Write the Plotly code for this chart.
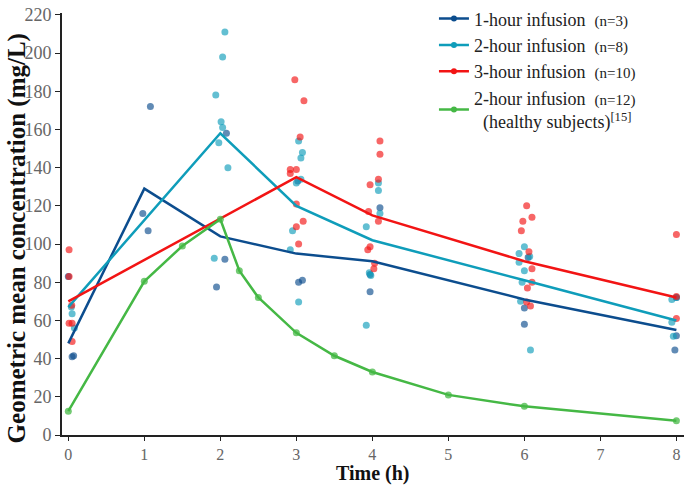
import plotly.graph_objects as go

# ---- mean curves ----
t_main = [0, 1, 2, 3, 4, 6, 8]
mean_1h = [48, 129, 104, 95, 91, 71, 55]
mean_2h = [67, 158, 120, 102, 81, 60]
t_2h = [0, 2, 3, 4, 6, 8]
mean_3h = [70, 135, 115, 91, 72]
t_3h = [0, 3, 4, 6, 8]
t_healthy = [0, 1, 1.5, 2, 2.25, 2.5, 3, 3.5, 4, 5, 6, 8]
mean_healthy = [12.5, 80.5, 99, 113, 86, 72, 53.5, 41.5, 33, 21, 15, 7.5]

# ---- individual observations ----
ind_1h_t = [0.0, 0.05, 0.07, 1.08, 0.98, 1.05, 2.08, 2.06, 1.95, 3.02, 3.03, 3.08, 4.1, 3.97, 3.97, 6.05, 6.0, 6.0, 8.0, 8.0, 7.98]
ind_1h_v = [83, 41, 41.5, 172, 116, 107, 158, 92, 77.5, 133, 80, 81, 119, 84, 75, 93, 66.5, 58, 72, 52, 44.5]

ind_2h_t = [0.04, 0.05, 0.08, 2.06, 2.03, 1.94, 2.01, 2.03, 1.98, 2.1, 1.92,
            3.03, 3.08, 3.06, 3.06, 3.0, 2.95, 2.92, 3.03,
            4.08, 4.08, 4.1, 3.92, 3.96, 3.98, 3.92,
            6.0, 5.93, 6.07, 5.93, 6.0, 5.97, 5.95, 6.08,
            8.0, 7.94, 7.94, 7.96]
ind_2h_v = [67, 63.5, 56, 211, 198, 178, 164, 161, 153, 140, 92.5,
            154, 148, 145, 134, 132, 107, 97, 69.7,
            132, 128, 116, 109, 85, 83.5, 57.5,
            98.6, 95, 93.5, 90.5, 86, 80, 70, 44.5,
            72, 71, 59, 51.7]

ind_3h_t = [0.01, 0.01, 0.045, 0.01, 0.05, 0.05,
            2.98, 3.1, 3.05, 2.92, 2.92, 3.0, 3.0, 3.09, 3.0, 3.03,
            4.1, 4.1, 4.08, 3.97, 3.95, 4.08, 3.94, 3.97, 4.03, 4.02,
            6.03, 6.1, 5.98, 5.96, 6.06, 6.1, 6.1, 6.04, 6.03, 6.08,
            8.0, 8.0, 8.0]
ind_3h_v = [97, 83, 68, 58.5, 58.5, 49,
            186, 175, 156, 139, 137, 139, 121, 112, 109, 100,
            154, 147, 134, 131, 117, 112, 97, 98.6, 90, 87,
            120, 114, 112, 107, 96, 87, 80, 77, 69.7, 67.5,
            105, 72.5, 61]

c_1h = "#0c4d8e"
c_2h = "#0f9dba"
c_3h = "#f21414"
c_h = "#45b845"

serif = "Liberation Serif, Times New Roman, serif"

fig = go.Figure()

def scatter(tt, vv, col):
    fig.add_trace(go.Scatter(x=tt, y=vv, mode="markers", showlegend=False,
                             marker=dict(color=col, size=7, opacity=0.65, line=dict(width=0)),
                             hoverinfo="skip"))

scatter(ind_1h_t, ind_1h_v, c_1h)
scatter(ind_2h_t, ind_2h_v, c_2h)
scatter(ind_3h_t, ind_3h_v, c_3h)

fig.add_trace(go.Scatter(x=t_main, y=mean_1h, mode="lines", line=dict(color=c_1h, width=2.5), showlegend=False))
fig.add_trace(go.Scatter(x=t_2h, y=mean_2h, mode="lines", line=dict(color=c_2h, width=2.5), showlegend=False))
fig.add_trace(go.Scatter(x=t_3h, y=mean_3h, mode="lines", line=dict(color=c_3h, width=2.5), showlegend=False))
fig.add_trace(go.Scatter(x=t_healthy, y=mean_healthy, mode="lines+markers",
                         line=dict(color=c_h, width=2.5),
                         marker=dict(color=c_h, size=7, opacity=0.75), showlegend=False))

small = '<span style="font-size:15px">'
legend_names = [
    "1-hour infusion  " + small + "(n=3)</span>",
    "2-hour infusion  " + small + "(n=8)</span>",
    "3-hour infusion  " + small + "(n=10)</span>",
    "2-hour infusion  " + small + "(n=12)</span><br>  (healthy subjects)<sup>[15]</sup>",
]
for name, col in zip(legend_names, [c_1h, c_2h, c_3h, c_h]):
    fig.add_trace(go.Scatter(x=[None], y=[None], mode="lines+markers", name=name,
                             line=dict(color=col, width=2.5), marker=dict(color=col, size=6)))

fig.update_layout(
    width=684, height=489,
    margin=dict(l=62, r=0, t=4, b=54),
    plot_bgcolor="white", paper_bgcolor="white",
    font=dict(family=serif, color="#222"),
    legend=dict(x=0.598, y=1.03, xanchor="left", yanchor="top",
                bgcolor="rgba(0,0,0,0)", font=dict(family=serif, size=18, color="#222"),
                tracegroupgap=0, itemwidth=30),
    xaxis=dict(range=[-0.083, 8.1], tickvals=[0, 1, 2, 3, 4, 5, 6, 7, 8],
               showline=True, linecolor="#222", linewidth=2, showgrid=False, zeroline=False,
               ticks="outside", ticklen=4, tickcolor="#222",
               tickfont=dict(family=serif, size=16, color="#666"),
               automargin=False),
    yaxis=dict(range=[0, 221], tickvals=list(range(0, 221, 20)),
               showline=True, linecolor="#222", linewidth=2, showgrid=False, zeroline=False,
               ticks="outside", ticklen=5, tickcolor="#222", ticklabeloverflow="allow",
               tickfont=dict(family=serif, size=18, color="#666"),
               automargin=False),
    annotations=[
        dict(text="<b>Geometric mean concentration (mg/L)</b>", textangle=-90,
             xref="paper", yref="paper", x=-0.0723, y=0.466, xanchor="center", yanchor="middle",
             showarrow=False, font=dict(family=serif, size=25, color="#111")),
        dict(text="<b>Time (h)</b>",
             xref="paper", yref="paper", x=0.5, y=-0.124, xanchor="center", yanchor="bottom",
             showarrow=False, font=dict(family=serif, size=20, color="#111")),
    ],
)

fig.write_html("out.html")
